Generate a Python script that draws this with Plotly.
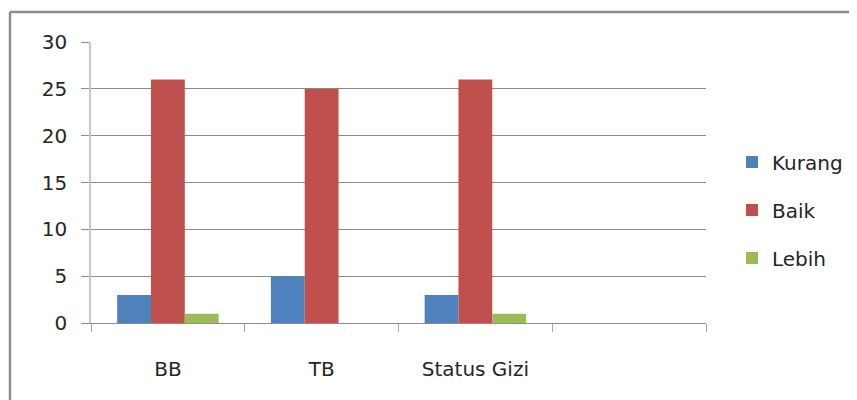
import plotly.graph_objects as go

categories = ["BB", "TB", "Status Gizi", " "]
kurang = [3, 5, 3, None]
baik = [26, 25, 26, None]
lebih = [1, 0, 1, None]
y_ticks = [0, 5, 10, 15, 20, 25, 30]

colors = {"Kurang": "#4F81BD", "Baik": "#C0504D", "Lebih": "#9BBB59"}

fig = go.Figure()
for i, (name, vals) in enumerate([("Kurang", kurang), ("Baik", baik), ("Lebih", lebih)]):
    fig.add_trace(go.Bar(x=categories, y=vals, name=name, marker_color=colors[name],
                         marker_line_width=0, legendgroup=f"g{i}"))

# page body has an 8px margin, so figure coords = screen coords - 8
OFF = 8
L, R, T, B = 91 - OFF, 706 - OFF, 42 - OFF, 323 - OFF
W, H = 857, 400
pw, ph = R - L, B - T

def px(x):
    return (x - OFF - L) / pw

def py(y):
    return (B - (y - OFF)) / ph

fig.update_layout(
    width=W, height=H,
    margin=dict(l=L, r=W - R, t=T, b=H - B, autoexpand=False),
    paper_bgcolor="white", plot_bgcolor="white",
    font=dict(family="DejaVu Sans, sans-serif", size=20, color="#262626"),
    barmode="group", bargap=0.34, bargroupgap=0,
    showlegend=True,
    legend=dict(x=px(732), y=py(210), xanchor="left", yanchor="middle",
                traceorder="grouped", tracegroupgap=19,
                font=dict(size=20), itemwidth=30, bgcolor="rgba(0,0,0,0)"),
    xaxis=dict(type="category", tickson="boundaries", ticks="outside", ticklen=8,
               tickcolor="#a6a6a6", showline=True, linecolor="#8c8c8c", linewidth=1,
               showgrid=False, ticklabelstandoff=28, range=[-0.5, 3.5]),
    yaxis=dict(range=[0, 30], tickvals=y_ticks, showgrid=True, gridcolor="#8c8c8c",
               gridwidth=1, ticks="outside", ticklen=8, tickcolor="#8c8c8c",
               showline=True, linecolor="#c8c8c8", linewidth=1.5, zeroline=False,
               ticklabelstandoff=10),
    shapes=[
        dict(type="line", xref="paper", yref="paper", x0=px(10), x1=px(870),
             y0=py(12), y1=py(12), line=dict(color="#8c8c8c", width=2.5)),
        dict(type="line", xref="paper", yref="paper", x0=px(10), x1=px(10),
             y0=py(12), y1=py(420), line=dict(color="#8c8c8c", width=2.5)),
    ],
)

fig.write_html("out.html")
